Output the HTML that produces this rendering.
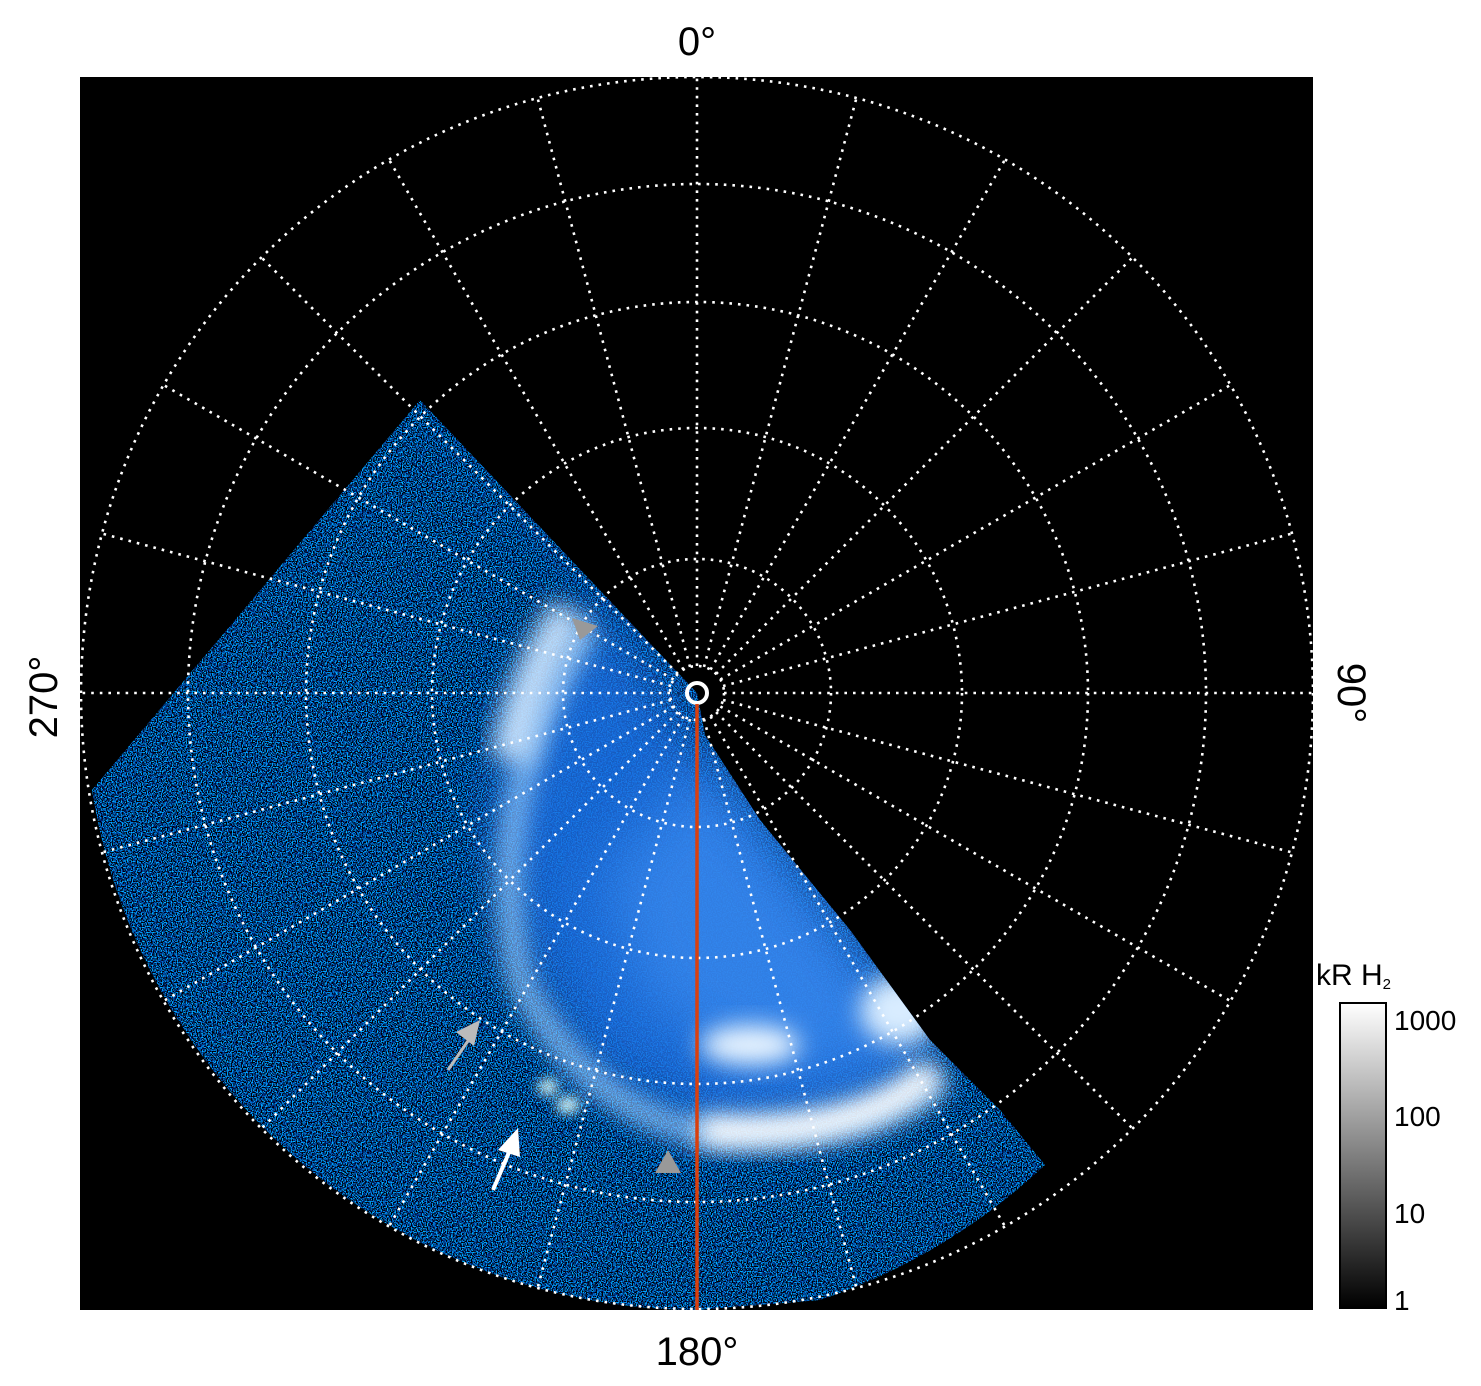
<!DOCTYPE html>
<html><head><meta charset="utf-8"><style>html,body{margin:0;padding:0;background:#fff}svg{display:block}</style></head>
<body>
<svg width="1481" height="1386" viewBox="0 0 1481 1386" xmlns="http://www.w3.org/2000/svg" font-family="Liberation Sans, sans-serif">
<defs>
<filter id="noise" x="0" y="0" width="100%" height="100%">
<feTurbulence type="fractalNoise" baseFrequency="0.8" numOctaves="1" seed="3"/>
<feColorMatrix type="matrix" values="0 0 0 0 0  2.2 0 0 0 -1.05  5.5 0 0 0 -2.45  0 0 0 0 1"/>
</filter>
<filter id="b12" x="-50%" y="-50%" width="200%" height="200%"><feGaussianBlur stdDeviation="12"/></filter>
<filter id="b30" x="-50%" y="-50%" width="200%" height="200%"><feGaussianBlur stdDeviation="30"/></filter>
<filter id="b6" x="-50%" y="-50%" width="200%" height="200%"><feGaussianBlur stdDeviation="6"/></filter>
<clipPath id="wedge"><path d="M697,693 L420,400 L92,790 A617,617 0 0 0 697,1310 L820,1300 A617,617 0 0 0 1045,1165 L1000,1110 L930,1040 L850,930 L760,820 L705,735 Z"/></clipPath>
<linearGradient id="cb" x1="0" y1="0" x2="0" y2="1"><stop offset="0" stop-color="#fff"/><stop offset="1" stop-color="#000"/></linearGradient>
</defs>
<rect x="80" y="77" width="1233" height="1233" fill="#000"/>
<g clip-path="url(#wedge)">
<rect x="80" y="77" width="1233" height="1233" fill="#020818"/>
<rect x="80" y="77" width="1233" height="1233" filter="url(#noise)"/>
<path d="M420,400 L697,693 L600,560 Z" fill="#1a60d0" opacity="0.6" filter="url(#b30)"/>
<path d="M600,600 L660,680 L710,750 L850,930 L940,1060 L850,1120 L700,1135 L580,1070 L515,950 L490,820 L520,690 Z" fill="#1e6ee0" opacity="0.85" filter="url(#b30)"/>
<path d="M700,760 L850,940 L930,1060 L760,1080 L640,1000 L600,880 Z" fill="#3c8cf0" opacity="0.7" filter="url(#b30)"/>
<path d="M590,625 Q480,800 520,980 Q590,1120 720,1135 Q880,1140 940,1080" fill="none" stroke="#9fd0ff" stroke-width="22" opacity="0.8" filter="url(#b12)"/>
<path d="M700,1130 Q860,1140 935,1070" fill="none" stroke="#fff" stroke-width="30" filter="url(#b12)"/>
<path d="M570,610 Q525,680 510,760" fill="none" stroke="#d0e8ff" stroke-width="40" opacity="0.9" filter="url(#b12)"/>
<ellipse cx="750" cy="1045" rx="50" ry="20" fill="#e8f4ff" filter="url(#b12)"/>
<ellipse cx="900" cy="1010" rx="40" ry="35" fill="#d8ecff" filter="url(#b12)"/>
<ellipse cx="568" cy="1105" rx="12" ry="8" fill="#dff" filter="url(#b6)"/>
<ellipse cx="548" cy="1087" rx="10" ry="8" fill="#dff" filter="url(#b6)"/>
</g>
<g fill="none" stroke="#fff" stroke-width="2.6" stroke-dasharray="2.6 6">
<circle cx="697" cy="693" r="616"/>
<circle cx="697" cy="693" r="509"/>
<circle cx="697" cy="693" r="391"/>
<circle cx="697" cy="693" r="265"/>
<circle cx="697" cy="693" r="134"/>
<circle cx="697" cy="693" r="27"/>
<g id="sp">
<line x1="697" y1="666" x2="697" y2="76"/>
<line x1="697" y1="666" x2="697" y2="76" transform="rotate(15 697 693)"/>
<line x1="697" y1="666" x2="697" y2="76" transform="rotate(30 697 693)"/>
<line x1="697" y1="666" x2="697" y2="76" transform="rotate(45 697 693)"/>
<line x1="697" y1="666" x2="697" y2="76" transform="rotate(60 697 693)"/>
<line x1="697" y1="666" x2="697" y2="76" transform="rotate(75 697 693)"/>
</g>
<use href="#sp" transform="rotate(90 697 693)"/>
<use href="#sp" transform="rotate(180 697 693)"/>
<use href="#sp" transform="rotate(270 697 693)"/>
</g>
<circle cx="697" cy="693" r="10" fill="none" stroke="#fff" stroke-width="4"/>
<line x1="697" y1="704" x2="697" y2="1310" stroke="#d8400f" stroke-width="3.5"/>
<polygon points="572,618 598,626 580,640" fill="#999"/>
<polygon points="655,1173 681,1173 668,1150" fill="#999"/>
<line x1="448" y1="1070" x2="470" y2="1038" stroke="#bbb" stroke-width="3"/>
<polygon points="480,1020 456,1032 474,1046" fill="#bbb"/>
<line x1="493" y1="1190" x2="510" y2="1150" stroke="#fff" stroke-width="4"/>
<polygon points="518,1128 498,1150 520,1157" fill="#fff"/>
<text x="697" y="55" font-size="40" text-anchor="middle">0°</text>
<text x="697" y="1365" font-size="40" text-anchor="middle">180°</text>
<text transform="translate(57,697) rotate(-90)" font-size="40" text-anchor="middle">270°</text>
<text transform="translate(1338,693) rotate(90)" font-size="40" text-anchor="middle">90°</text>
<rect x="1340" y="1003" width="46" height="305" fill="url(#cb)" stroke="#000" stroke-width="2"/>
<text x="1316" y="985" font-size="30">kR H<tspan font-size="15" dy="4">2</tspan></text>
<g font-size="28">
<text x="1394" y="1030">1000</text>
<text x="1394" y="1126">100</text>
<text x="1394" y="1223">10</text>
<text x="1394" y="1310">1</text>
</g>
</svg>
</body></html>
